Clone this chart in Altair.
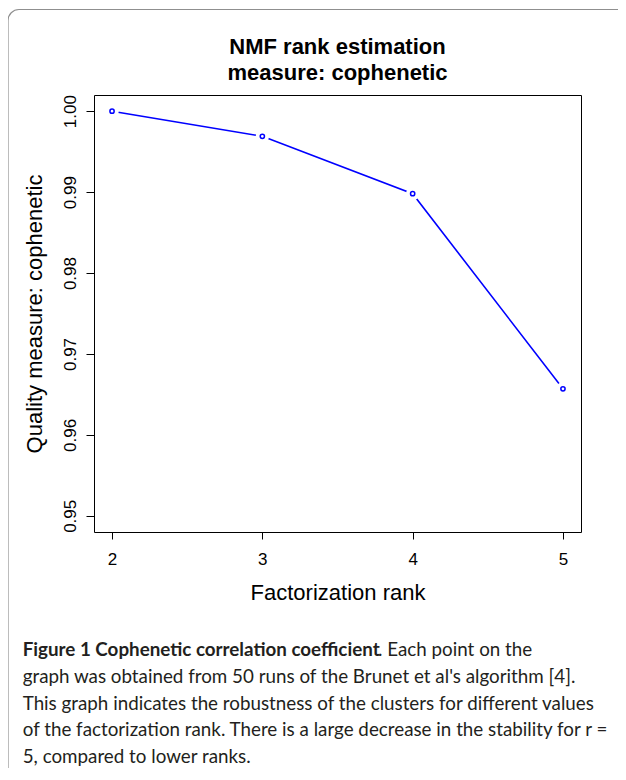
import altair as alt
import pandas as pd

# ---- data ----
ranks = [2, 3, 4, 5]
cophenetic = [1.000, 0.9969, 0.9898, 0.9657]
x_ticks = [2, 3, 4, 5]
y_ticks = [0.95, 0.96, 0.97, 0.98, 0.99, 1.00]
title_line1 = "NMF rank estimation"
title_line2 = "measure: cophenetic"
x_title = "Factorization rank"
y_title = "Quality measure: cophenetic"
caption_bold = "Figure 1 Cophenetic correlation coefficient"
caption_first_rest = ". Each point on the"
caption_lines = [
    "graph was obtained from 50 runs of the Brunet et al's algorithm [4].",
    "This graph indicates the robustness of the clusters for different values",
    "of the factorization rank. There is a large decrease in the stability for r =",
    "5, compared to lower ranks.",
]

df = pd.DataFrame({"rank": ranks, "coph": cophenetic})
one = pd.DataFrame({"k": [0]})

W, H = 487, 437
FONT = "Liberation Sans"
CAP_FONT = "Lato"
CAP_SIZE = 18.8
CAP_COLOR = "#231f20"

X = alt.X(
    "rank:Q",
    scale=alt.Scale(domain=[1.88, 5.12], nice=False, zero=False),
    axis=alt.Axis(
        values=x_ticks, format="d", title=x_title, grid=False, domain=False,
        tickSize=7, tickColor="black", labelPadding=25, labelBaseline="alphabetic",
        labelFontSize=17, labelFont=FONT, labelColor="black", labelFlush=False,
        labelOverlap=False,
        titleFont=FONT, titleFontSize=22, titleFontWeight="normal", titleColor="black",
        titleBaseline="alphabetic", titleX=W / 2, titleY=67, titleAlign="center",
    ),
)
Y = alt.Y(
    "coph:Q",
    scale=alt.Scale(domain=[0.948, 1.002], nice=False, zero=False),
    axis=alt.Axis(
        values=y_ticks, format=".2f", title=y_title, grid=False, domain=False,
        tickSize=8, tickColor="black", labelAngle=270, labelAlign="center",
        labelBaseline="alphabetic", labelPadding=11, labelFontSize=17, labelFont=FONT,
        labelColor="black", labelFlush=False, labelOverlap=False,
        titleFont=FONT, titleFontSize=22, titleFontWeight="normal", titleColor="black",
        titleAngle=270, titleAlign="center", titleBaseline="alphabetic",
        titleX=-53, titleY=H / 2,
    ),
)

border = alt.Chart(one).mark_rect(
    fill="white", fillOpacity=0, stroke="#8f8f8f", strokeWidth=1.2, cornerRadius=11
).encode(x=alt.value(-86), x2=alt.value(640), y=alt.value(-85.5), y2=alt.value(690))

base = alt.Chart(df)
line = base.mark_line(color="#0000FF", strokeWidth=1.6).encode(x=X, y=Y)
gap = base.mark_point(shape="circle", filled=True, color="white", size=180, opacity=1).encode(x=X, y=Y)
pts = base.mark_point(shape="circle", filled=False, color="#0000FF", size=18,
                      strokeWidth=1.5, opacity=1).encode(x=X, y=Y)

t1 = alt.Chart(one).mark_text(
    text=title_line1, font=FONT, fontWeight="bold", fontSize=22,
    align="center", baseline="alphabetic", color="black"
).encode(x=alt.value(W / 2), y=alt.value(-41.3))
t2 = alt.Chart(one).mark_text(
    text=title_line2, font=FONT, fontWeight="bold", fontSize=22,
    align="center", baseline="alphabetic", color="black"
).encode(x=alt.value(W / 2), y=alt.value(-15.3))

cap1 = alt.Chart(one).mark_text(
    text=caption_bold, font=CAP_FONT, fontWeight="bold", fontSize=CAP_SIZE,
    align="left", baseline="alphabetic", color=CAP_COLOR
).encode(x=alt.value(-71.3), y=alt.value(561.3))
cap1b = alt.Chart(one).mark_text(
    text=caption_first_rest, font=CAP_FONT, fontSize=CAP_SIZE,
    align="left", baseline="alphabetic", color=CAP_COLOR
).encode(x=alt.value(284), y=alt.value(561.3))
cap2 = alt.Chart(one).mark_text(
    text=caption_lines, font=CAP_FONT, fontSize=CAP_SIZE, lineHeight=26.9,
    align="left", baseline="alphabetic", color=CAP_COLOR
).encode(x=alt.value(-71.3), y=alt.value(587.7))

chart = alt.layer(border, t1, t2, line, gap, pts, cap1, cap1b, cap2).properties(
    width=W, height=H,
    autosize=alt.AutoSizeParams(type="none"),
    padding={"left": 86, "top": 87, "right": 37, "bottom": 236},
    background="white",
).configure_view(stroke="black", strokeWidth=1)

chart.save("out.html", embed_options={"renderer": "svg", "actions": False})
